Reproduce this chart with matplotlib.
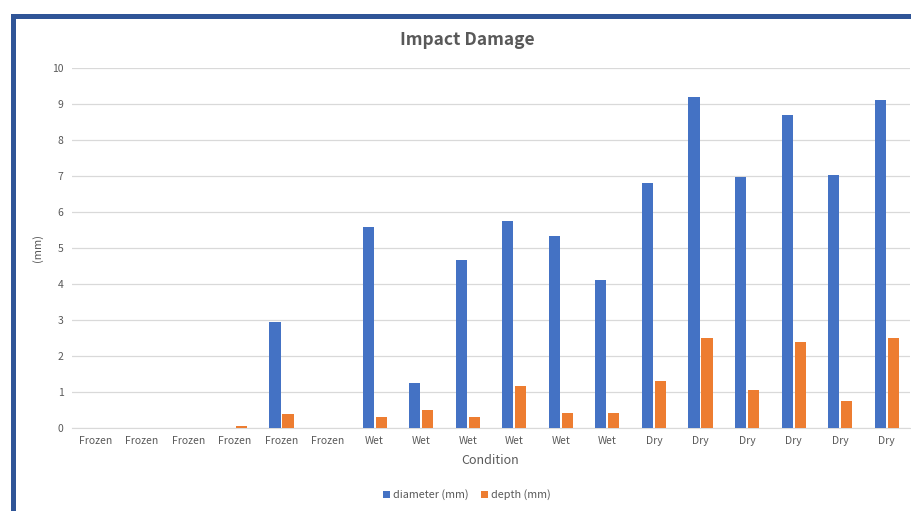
import matplotlib.pyplot as plt
import numpy as np
from matplotlib.patches import Rectangle

# Data
conditions = ['Frozen'] * 6 + ['Wet'] * 6 + ['Dry'] * 6
diameter = [0, 0, 0, 0, 2.95, 0,
            5.57, 1.25, 4.67, 5.75, 5.34, 4.11,
            6.80, 9.19, 6.97, 8.70, 7.02, 9.11]
depth = [0, 0, 0, 0.05, 0.39, 0,
         0.31, 0.50, 0.31, 1.17, 0.42, 0.42,
         1.31, 2.50, 1.05, 2.39, 0.75, 2.50]

plt.rcParams['font.family'] = ['Noto Sans CJK SC', 'DejaVu Sans']
grey = '#595959'

fig = plt.figure(figsize=(9.11, 5.11), dpi=100)
ax = fig.add_axes([72 / 911, 1 - 428 / 511, 838 / 911, 360 / 511])

x = np.arange(len(conditions))
w = 0.24
ax.bar(x - w / 2 - 0.02, diameter, w, color='#4472C4', label='diameter (mm)', zorder=3)
ax.bar(x + w / 2 + 0.02, depth, w, color='#ED7D31', label='depth (mm)', zorder=3)

ax.set_xlim(-0.5, len(conditions) - 0.5)
ax.set_ylim(0, 10)
ax.set_yticks(range(0, 11))
ax.set_xticks(x)
ax.set_xticklabels(conditions)
ax.tick_params(axis='both', length=0, labelsize=7.5, colors=grey, pad=6)
ax.grid(axis='y', color='#D9D9D9', linewidth=0.9, zorder=0)
for s in ['top', 'right', 'left']:
    ax.spines[s].set_visible(False)
ax.spines['bottom'].set_color('#D9D9D9')

fig.text(467 / 911, 1 - 40 / 511, 'Impact Damage', ha='center', va='center',
         fontsize=12.5, fontweight='bold', color=grey)
fig.text(38 / 911, 1 - 248 / 511, '(mm)', rotation=90, ha='center', va='center',
         fontsize=8, color=grey)
fig.text(490 / 911, 1 - 460 / 511, 'Condition', ha='center', va='center',
         fontsize=9, color=grey)

fig.legend(loc='center', bbox_to_anchor=(467 / 911, 1 - 495 / 511), ncol=2,
           frameon=False, fontsize=7.8, labelcolor=grey, handlelength=0.6,
           handleheight=0.6, handletextpad=0.3, columnspacing=1.2)

# dark blue frame on top and left edges
fig.add_artist(Rectangle((11 / 911, 1 - 19 / 511), 900 / 911, 5 / 511,
                         transform=fig.transFigure, color='#2F5597', lw=0))
fig.add_artist(Rectangle((11 / 911, 0), 5 / 911, 1 - 14 / 511,
                         transform=fig.transFigure, color='#2F5597', lw=0))

fig.savefig('out.png', dpi=100)
